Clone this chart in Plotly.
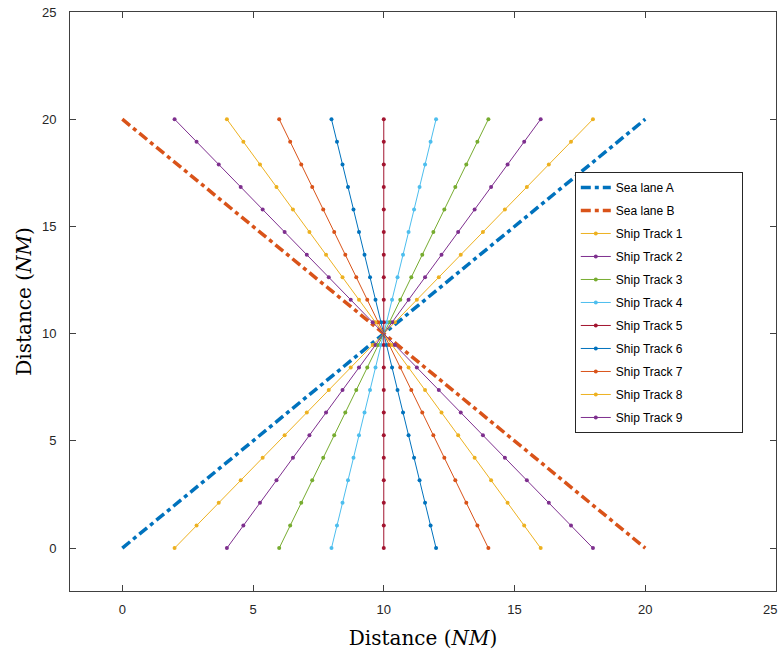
import plotly.graph_objects as go

# ---- data ----
lane_names = ["Sea lane A", "Sea lane B"]
lane_x = [[0, 20], [0, 20]]
lane_y = [[0, 20], [20, 0]]
lane_colors = ["#0072BD", "#D95319"]

track_names = ["Ship Track %d" % i for i in range(1, 10)]
track_x_start = [2, 4, 6, 8, 10, 12, 14, 16, 18]   # x at y = 0
track_x_end = [18, 16, 14, 12, 10, 8, 6, 4, 2]     # x at y = 20
track_colors = ["#EDB120", "#7E2F8E", "#77AC30", "#4DBEEE", "#A2142F",
                "#0072BD", "#D95319", "#EDB120", "#7E2F8E"]
# marker positions along each track (distance north, NM)
track_y = [0, 1.05, 2.11, 3.16, 4.21, 5.26, 6.32, 7.37, 8.42, 9.47,
           10.53, 11.58, 12.63, 13.68, 14.74, 15.79, 16.84, 17.89, 18.95, 20]

x_ticks = [0, 5, 10, 15, 20, 25]
x_tick_labels = ["0", "5", "10", "15", "20", "25"]
y_ticks = [0, 5, 10, 15, 20, 25]

NB = "\u00a0"
def pad(s):
    return s + NB * 16

tick_font = dict(family="Liberation Sans, Arial, sans-serif", size=13, color="#262626")

# the last x label sits at the right edge of the page; draw it as an annotation
x_tick_text = list(x_tick_labels)
last_label = x_tick_text[-1]
x_tick_text[-1] = ""

fig = go.Figure()
for name, xs, ys, c in zip(lane_names, lane_x, lane_y, lane_colors):
    fig.add_trace(go.Scatter(x=xs, y=ys, mode="lines", name=pad(name), legendgroup=name,
                             line=dict(color=c, width=3.5, dash="10px,4px,4px,4px")))

for name, x0, x1, c in zip(track_names, track_x_start, track_x_end, track_colors):
    xs = [x0 + (x1 - x0) * y / 20.0 for y in track_y]
    fig.add_trace(go.Scatter(x=xs, y=track_y, mode="lines+markers", name=pad(name), legendgroup=name,
                             line=dict(color=c, width=1),
                             marker=dict(color=c, size=4)))

axis_common = dict(
    showgrid=False, zeroline=False, showline=True, mirror="ticks",
    linecolor="#404040", linewidth=1, ticks="inside", ticklen=6, tickcolor="#404040",
    ticklabeloverflow="allow", tickfont=tick_font,
)
title_font = dict(family="DejaVu Serif, serif", size=20, color="#000000")

fig.update_xaxes(range=[-2, 25], tickvals=x_ticks, ticktext=x_tick_text, ticklabelstandoff=6,
                 automargin=False, **axis_common,
                 title=dict(text="Distance (<i>NM</i>)", font=title_font))
fig.update_yaxes(range=[-2, 25], tickvals=y_ticks, ticklabelstandoff=10, automargin=True,
                 **axis_common,
                 title=dict(text="Distance (<i>NM</i>)", standoff=4, font=title_font))

fig.add_annotation(x=x_ticks[-1], xref="x", y=0, yref="paper", text=last_label,
                   showarrow=False, xanchor="right", yanchor="top", xshift=3, yshift=-9,
                   font=tick_font)

fig.update_layout(
    width=781, height=653,
    margin=dict(l=70, r=5, t=12, b=62),
    plot_bgcolor="white", paper_bgcolor="white",
    showlegend=True,
    legend=dict(x=0.715, y=0.7237, xanchor="left", yanchor="top",
                bgcolor="white", bordercolor="#262626", borderwidth=1,
                font=dict(family="Liberation Sans, Arial, sans-serif", size=12, color="#000000"),
                tracegroupgap=4),
)

fig.write_html("out.html")
